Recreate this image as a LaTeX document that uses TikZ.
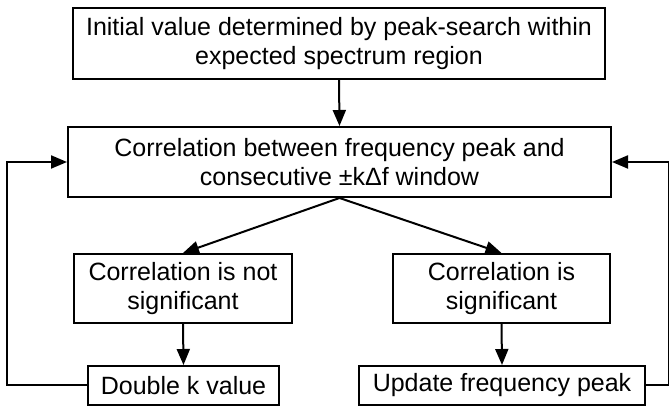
\documentclass[tikz,border=0pt]{standalone}
\usepackage{fontspec}
\setmainfont{Liberation Sans}
\usetikzlibrary{arrows.meta}

\begin{document}
\begin{tikzpicture}[x=1pt,y=1pt,line width=2pt,
        box/.style={draw,align=center,inner sep=0pt,font=\fontsize{25}{29}\selectfont},
        arr/.style={-{Triangle[length=16pt,width=13pt]}}]
        \useasboundingbox (0,0) rectangle (669,406);

        \node[box,minimum width=532,minimum height=71] (init) at (339,362.5)
            {Initial value determined by peak-search within\\expected spectrum region};
        \node[box,minimum width=543,minimum height=70] (corr) at (339.5,244)
            {Correlation between frequency peak and\\consecutive ±kΔf window};
        \node[box,minimum width=218,minimum height=69] (notsig) at (183,117.5)
            {Correlation is not\\significant};
        \node[box,minimum width=217,minimum height=69] (sig) at (501.5,117.5)
            {Correlation is\\significant};
        \node[box,minimum width=191,minimum height=39] (dbl) at (183.5,20.5) {Double k value};
        \node[box,minimum width=286,minimum height=39] (upd) at (502,20.5) {Update frequency peak};

        \draw[arr] (init.south) -- (corr.north);
        \draw[arr] (corr.south) -- (notsig.north);
        \draw[arr] (corr.south) -- (sig.north);
        \draw[arr] (notsig.south) -- (dbl.north);
        \draw[arr] (sig.south) -- (upd.north);

        \draw[arr] (dbl.west) -- ++(-80,0) |- (corr.west);
        \draw[arr] (upd.east) -- ++(23,0) |- (corr.east);

        \end{tikzpicture}
\end{document}
